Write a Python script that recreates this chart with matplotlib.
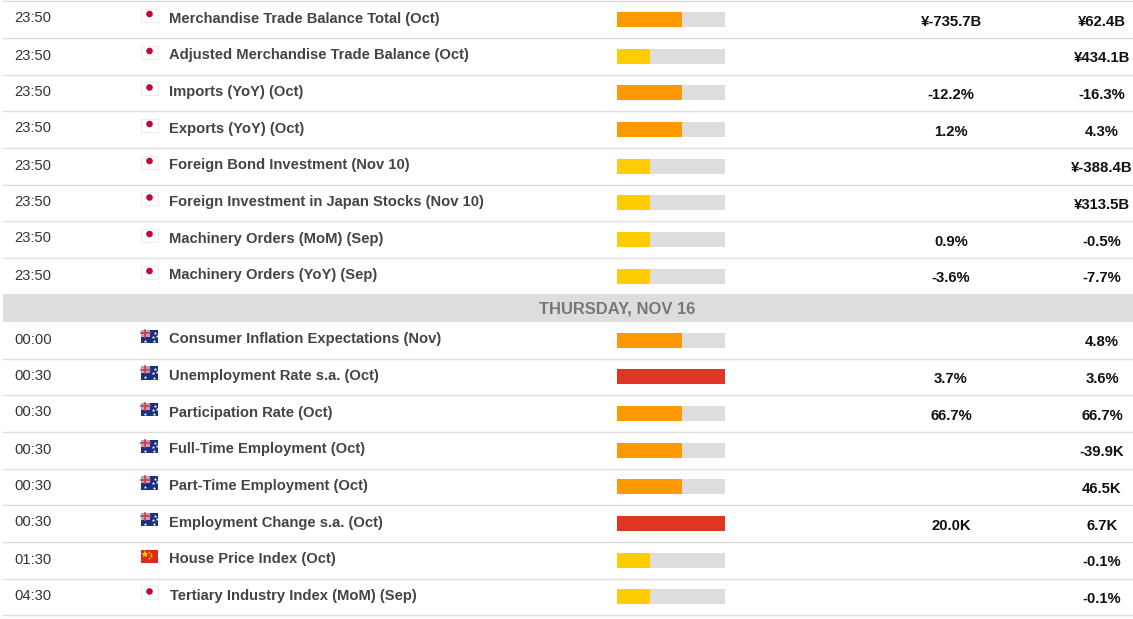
import matplotlib.pyplot as plt
from matplotlib.patches import Rectangle, Circle
import numpy as np

# --- DATA ---
times = ['23:50', '23:50', '23:50', '23:50', '23:50', '23:50', '23:50', '23:50',
         '00:00', '00:30', '00:30', '00:30', '00:30', '00:30', '01:30', '04:30']
events = ['Merchandise Trade Balance Total (Oct)', 'Adjusted Merchandise Trade Balance (Oct)',
          'Imports (YoY) (Oct)', 'Exports (YoY) (Oct)', 'Foreign Bond Investment (Nov 10)',
          'Foreign Investment in Japan Stocks (Nov 10)', 'Machinery Orders (MoM) (Sep)',
          'Machinery Orders (YoY) (Sep)', 'Consumer Inflation Expectations (Nov)',
          'Unemployment Rate s.a. (Oct)', 'Participation Rate (Oct)', 'Full-Time Employment (Oct)',
          'Part-Time Employment (Oct)', 'Employment Change s.a. (Oct)', 'House Price Index (Oct)',
          'Tertiary Industry Index (MoM) (Sep)']
countries = ['JP'] * 8 + ['AU'] * 6 + ['CN', 'JP']
importance = [2, 1, 2, 2, 1, 1, 1, 1, 2, 3, 2, 2, 2, 3, 1, 1]
forecast = ['¥-735.7B', '', '-12.2%', '1.2%', '', '', '0.9%', '-3.6%',
            '', '3.7%', '66.7%', '', '', '20.0K', '', '']
previous = ['¥62.4B', '¥434.1B', '-16.3%', '4.3%', '¥-388.4B', '¥313.5B', '-0.5%', '-7.7%',
            '4.8%', '3.6%', '66.7%', '-39.9K', '46.5K', '6.7K', '-0.1%', '-0.1%']
day_header = 'THURSDAY, NOV 16'

# --- LAYOUT (pixels) ---
W, H = 1133, 619
row_tops = [1, 38, 74.5, 111, 148, 184.5, 221, 258, 322, 358.5, 395, 432, 468.5, 505, 542, 578.5]
row_h = 36.7
level_fill = {1: (650, '#ffcc00'), 2: (682, '#ff9900'), 3: (725, '#e03524')}

plt.rcParams['font.family'] = 'Liberation Sans'
fig = plt.figure(figsize=(W / 100, H / 100), dpi=100)
ax = fig.add_axes([0, 0, 1, 1])
ax.set_xlim(0, W)
ax.set_ylim(H, 0)
ax.axis('off')


def draw_flag(code, x, y):
    if code == 'JP':
        ax.add_patch(Rectangle((x, y), 17, 13, fc='white', ec='#eeeeee', lw=0.8))
        ax.add_patch(Circle((x + 8.5, y + 5.5), 3.3, fc='#bc0a32', ec='none'))
    elif code == 'AU':
        ax.add_patch(Rectangle((x, y), 17, 13.5, fc='#1a2f80', ec='none'))
        ax.add_patch(Rectangle((x, y), 8.5, 7, fc='#b9a3b8', ec='none'))
        ax.plot([x, x + 8.5], [y + 3.5, y + 3.5], color='#d23a4c', lw=1.2)
        ax.plot([x + 4.2, x + 4.2], [y, y + 7], color='#d23a4c', lw=1.2)
        ax.plot([x + 4, x + 13, x + 14, x + 12, x + 15.5], [y + 11, y + 11.5, y + 3, y + 7, y + 6],
                ls='none', marker='*', ms=2.6, color='white', mew=0)
    else:
        ax.add_patch(Rectangle((x, y), 17, 13, fc='#de2a1c', ec='none'))
        ax.plot([x + 4], [y + 4.5], marker='*', ms=6, color='#ffcc00', mew=0)
        ax.plot([x + 8, x + 9.5, x + 9.5, x + 8], [y + 2, y + 4, y + 6.5, y + 8.5],
                ls='none', marker='*', ms=2.2, color='#ffcc00', mew=0)


# day header band
ax.add_patch(Rectangle((3, 294), W - 3, 28, fc='#dddddd', ec='none'))
ax.text(617, 308.5, day_header, ha='center', va='center', fontsize=11.9,
        fontweight='bold', color='#777777')

# row separators
ax.plot([3, W], [1, 1], color='#dddddd', lw=1)
for top in row_tops:
    if top != 258:
        ax.plot([3, W], [top + row_h, top + row_h], color='#dddddd', lw=1)

# rows
for i, top in enumerate(row_tops):
    ax.text(14.5, top + 17.5, times[i], ha='left', va='center', fontsize=10.6, color='#333333')
    draw_flag(countries[i], 141, top + 7.5)
    name_x = 170 if events[i].startswith('Tertiary') else 169
    ax.text(name_x, top + 17.5, events[i], ha='left', va='center', fontsize=10.65,
            fontweight='bold', color='#444444')
    ax.add_patch(Rectangle((617, top + 10.5), 108, 15, fc='#dddddd', ec='none'))
    end, col = level_fill[importance[i]]
    ax.add_patch(Rectangle((617, top + 10.5), end - 617, 15, fc=col, ec='none'))
    if forecast[i]:
        ax.text(951, top + 20.5, forecast[i], ha='center', va='center', fontsize=10.7,
                fontweight='bold', color='#111111')
    ax.text(1102, top + 20.5, previous[i], ha='center', va='center', fontsize=10.7,
            fontweight='bold', color='#111111')

fig.savefig('out.png', dpi=100, facecolor='white')
